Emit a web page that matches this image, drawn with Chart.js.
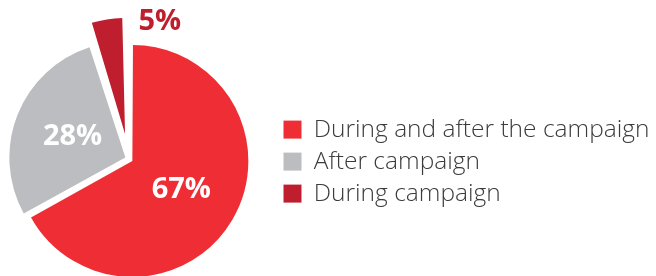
<!DOCTYPE html>
<html>
<head>
<meta charset="utf-8">
<script src="https://cdn.jsdelivr.net/npm/chart.js@4.4.0/dist/chart.umd.min.js"></script>
<style>
  html, body { margin: 0; padding: 0; background: #fff; }
  #wrap { width: 656px; height: 276px; position: relative; }
</style>
</head>
<body>
<div id="wrap"><canvas id="pie"></canvas></div>
<script>
// data
var categories = ['During and after the campaign', 'After campaign', 'During campaign'];
var shares = [67, 28, 5];
var sliceColors = ['#ee2e34', '#bcbdc0', '#be1e2d'];
var labelColors = ['#ffffff', '#ffffff', '#be1e2d'];
// how far each slice is pulled out of the centre, px
var sliceShift = [3.9, 3.9, 25.3];
var pieRadius = 116;

// chart.js moves an arc by offset/4 and also grows it; undo the growth
var keepRadius = {
	id: 'keepRadius',
	afterDatasetUpdate: function(chart, args) {
		args.meta.data.forEach(function(arc, i) {
			var circ = arc.endAngle - arc.startAngle;
			var fix = 1 - Math.sin(Math.min(Math.PI, circ));
			arc.outerRadius = pieRadius - sliceShift[i] * fix;
		});
	}
};

// legend box is capped at half the width: let the long label run to the edge,
// and let the pie area reach a little past the left border (it gets cut there)
var layoutTweak = {
	id: 'layoutTweak',
	afterLayout: function(chart) {
		var lg = chart.legend;
		lg.right = chart.width;
		lg.width = lg.right - lg.left;
		var area = chart.chartArea;
		area.left = -18;
		area.width = area.right - area.left;
	}
};

// percent numbers on / next to the slices
var pctLabels = {
	id: 'pctLabels',
	afterDatasetsDraw: function(chart) {
		var ctx = chart.ctx;
		var meta = chart.getDatasetMeta(0);
		ctx.save();
		ctx.font = '700 29px "Open Sans"';
		ctx.textAlign = 'center';
		ctx.textBaseline = 'middle';
		meta.data.forEach(function(arc, i) {
			var mid = (arc.startAngle + arc.endAngle) / 2;
			var cx = arc.x + Math.cos(mid) * sliceShift[i];
			var cy = arc.y + Math.sin(mid) * sliceShift[i];
			var a, r;
			if (shares[i] < 10) {
				// small slice: number sits outside, to its right
				a = arc.endAngle + 0.30;
				r = pieRadius * 1.015;
			} else {
				a = mid;
				r = pieRadius * 0.49;
			}
			ctx.fillStyle = labelColors[i];
			ctx.fillText(shares[i] + '%', cx + Math.cos(a) * r, cy + Math.sin(a) * r);
		});
		ctx.restore();
	}
};

new Chart(document.getElementById('pie'), {
	type: 'pie',
	data: {
		labels: categories,
		datasets: [{
			data: shares,
			backgroundColor: sliceColors,
			borderWidth: 0,
			offset: sliceShift.map(function(v) { return v * 4; })
		}]
	},
	options: {
		responsive: true,
		maintainAspectRatio: false,
		animation: false,
		events: [],
		radius: pieRadius,
		layout: { padding: { top: 42, bottom: 0, left: 0, right: 104 } },
		plugins: {
			tooltip: { enabled: false },
			legend: {
				position: 'right',
				title: { display: true, text: ' ', font: { size: 1 }, padding: 2 },
				labels: {
					boxWidth: 18,
					boxHeight: 18,
					padding: 7.5,
					color: '#3b3b3b',
					font: { family: 'Open Sans', size: 24.5, weight: 300 }
				}
			}
		}
	},
	plugins: [keepRadius, layoutTweak, pctLabels]
});
</script>
</body>
</html>
